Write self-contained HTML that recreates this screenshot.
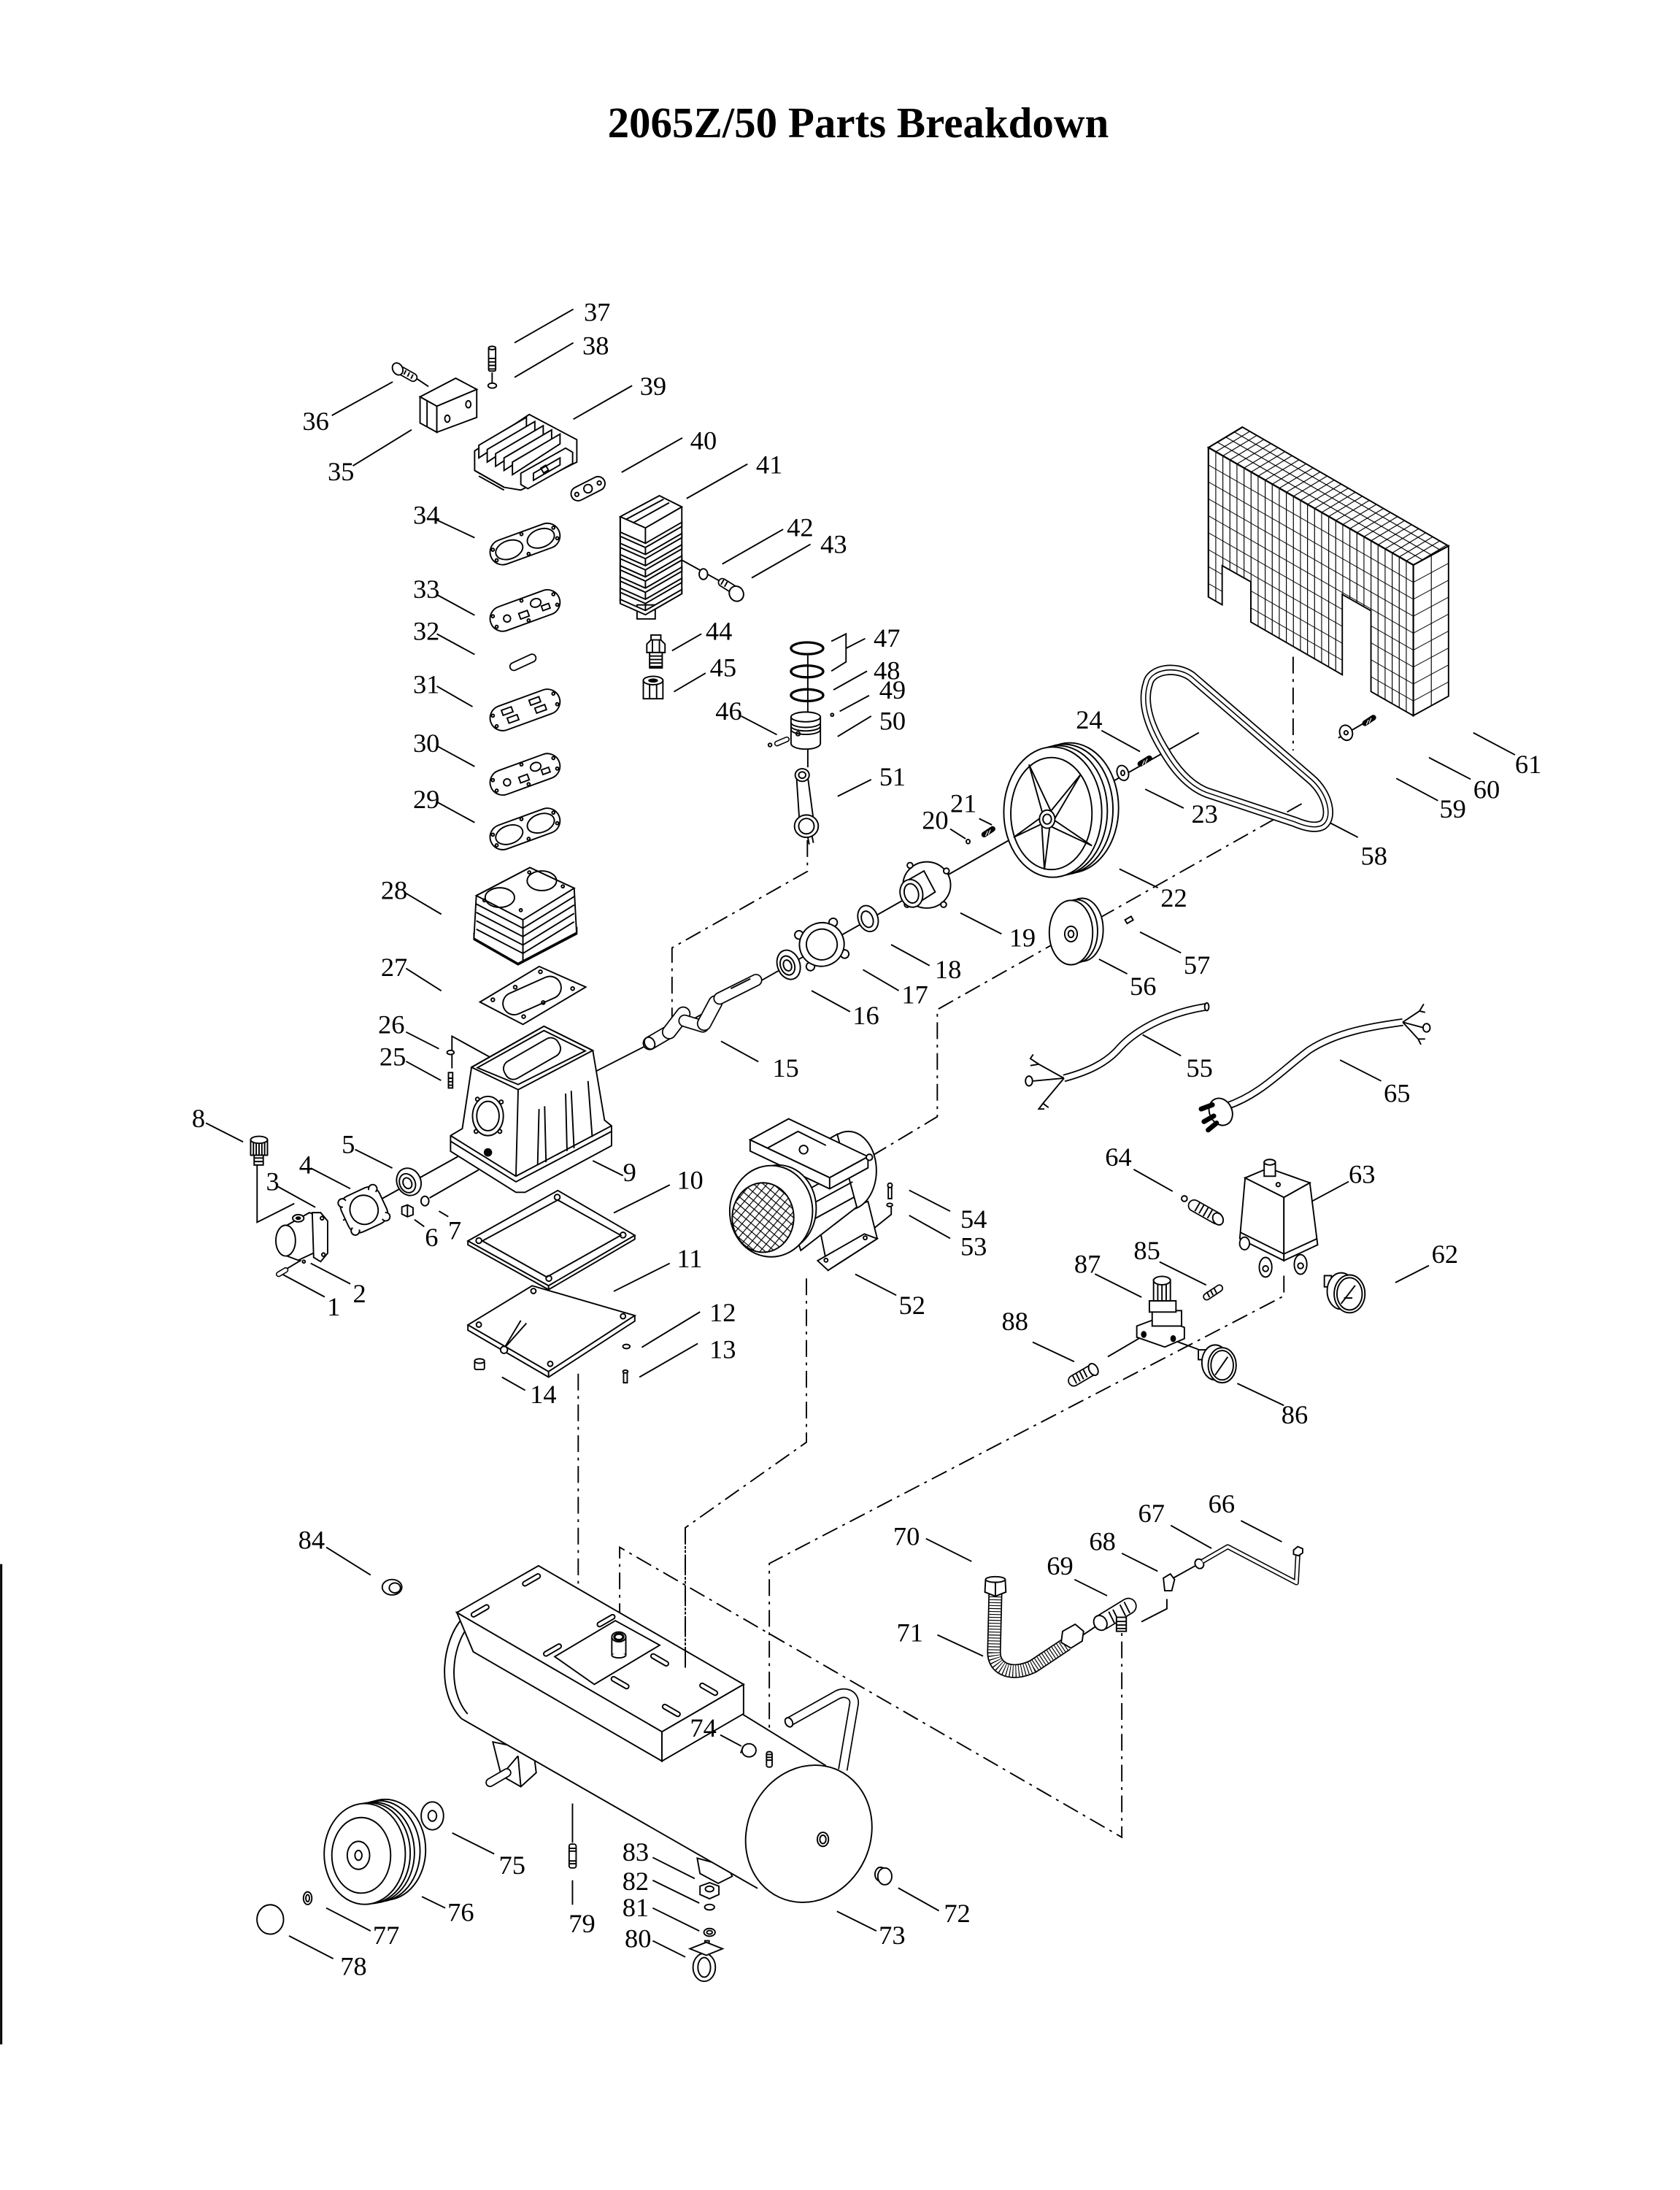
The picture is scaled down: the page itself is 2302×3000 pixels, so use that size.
<!DOCTYPE html>
<html><head><meta charset="utf-8">
<style>
html,body{margin:0;padding:0;background:#fff;}
svg{display:block}
</style></head><body>
<svg xmlns="http://www.w3.org/2000/svg" xmlns:xlink="http://www.w3.org/1999/xlink" width="2302" height="3000" viewBox="0 0 1200 1564">
<defs>
<style>
.s{fill:none;stroke:#000;stroke-width:1}
.w{fill:#fff;stroke:#000;stroke-width:1}
.k{fill:#000}
.ld{stroke:#000;stroke-width:1;fill:none}
.d{fill:none;stroke:#000;stroke-width:1;stroke-dasharray:12 4 2 4}
.t{font-family:"Liberation Serif","DejaVu Serif",serif;font-size:19px;fill:#000}
</style>
<pattern id="gf" patternUnits="userSpaceOnUse" width="5.04" height="12.1" patternTransform="translate(863.1,319.6) skewY(29.8)">
<path d="M0.3,0V12.1M0,0.3H5.04" stroke="#000" stroke-width=".6" fill="none"/>
</pattern>
<pattern id="gt" patternUnits="userSpaceOnUse" width="5.04" height="6" patternTransform="matrix(1,0.573,1.0125,-0.608,863.1,319.6)">
<path d="M0.3,0V6M0,0.3H5.04" stroke="#000" stroke-width=".6" fill="none"/>
</pattern>
<pattern id="gr" patternUnits="userSpaceOnUse" width="12.6" height="12.1" patternTransform="translate(1009.5,403.5) skewY(-28.4)">
<path d="M0.3,0V12.1M0,0.3H12.6" stroke="#000" stroke-width=".6" fill="none"/>
</pattern>
<pattern id="gm" patternUnits="userSpaceOnUse" width="4.5" height="4.5" patternTransform="rotate(40)">
<path d="M0,0.3H4.5M0.3,0V4.5" stroke="#000" stroke-width=".6" fill="none"/>
</pattern>
<g id="gA" transform="rotate(-20)">
<rect class="w" x="-26" y="-9" width="52" height="18" rx="9"/>
<ellipse class="s" cx="-12" cy="0" rx="10" ry="6.5"/>
<ellipse class="s" cx="12" cy="0" rx="10" ry="6.5"/>
<circle class="s" cx="-23" cy="-4" r="1"/><circle class="s" cx="-23" cy="4" r="1"/>
<circle class="s" cx="23" cy="-4" r="1"/><circle class="s" cx="23" cy="4" r="1"/>
<circle class="s" cx="0" cy="-7.5" r="1"/><circle class="s" cx="0" cy="7.5" r="1"/>
</g>
<g id="gB" transform="rotate(-20)">
<rect class="w" x="-26" y="-9" width="52" height="18" rx="9"/>
<circle class="s" cx="-14" cy="1" r="2.5"/>
<ellipse class="s" cx="9" cy="-2.5" rx="3.8" ry="3"/>
<rect class="s" x="-5" y="0.5" width="6.5" height="4.2"/>
<rect class="s" x="12" y="1" width="5.5" height="3.5"/>
<circle class="s" cx="-23" cy="-4" r="1"/><circle class="s" cx="-23" cy="4" r="1"/>
<circle class="s" cx="23" cy="-4" r="1"/><circle class="s" cx="23" cy="4" r="1"/>
<circle class="s" cx="0" cy="-7.5" r="1"/><circle class="s" cx="0" cy="7.5" r="1"/>
</g>
<g id="gC" transform="rotate(-20)">
<rect class="w" x="-26" y="-9" width="52" height="18" rx="9"/>
<rect class="s" x="-16" y="-5.5" width="7.5" height="3.8"/>
<rect class="s" x="-14" y="1.2" width="7.5" height="3.8"/>
<rect class="s" x="5" y="-5.5" width="7.5" height="3.8"/>
<rect class="s" x="7" y="1.2" width="7.5" height="3.8"/>
<circle class="s" cx="-23" cy="-4" r="1"/><circle class="s" cx="-23" cy="4" r="1"/>
<circle class="s" cx="23" cy="-4" r="1"/><circle class="s" cx="23" cy="4" r="1"/>
</g>
</defs>

<rect x="0" y="0" width="1200" height="1564" fill="#fff"/>

<text x="613" y="98" text-anchor="middle" font-family="Liberation Serif, serif" font-weight="bold" font-size="31" textLength="358" lengthAdjust="spacingAndGlyphs">2065Z/50 Parts Breakdown</text>

<rect x="0" y="1117" width="1.6" height="343" fill="#000"/>

<g>
<line class="s" x1="351.5" y1="266" x2="351.5" y2="274"/>
<line class="s" x1="297" y1="270" x2="306" y2="276"/>
<line class="s" x1="487" y1="400" x2="516" y2="416"/>
<line class="s" x1="577" y1="468" x2="577" y2="548"/>
<path class="d" d="M576.7,600 V622.3 L480,676.9 V727"/>
<polyline class="s" points="423.4,766.2 463,746 856.4,523.2"/>
<line class="s" x1="245" y1="871.5" x2="327" y2="826"/>
<line class="s" x1="306.8" y1="855.5" x2="341.8" y2="835.5"/>
<polyline class="s" points="183.6,832 183.6,872.9 210.2,859.5"/>
<polyline class="s" points="322.8,763 322.8,740 370,766"/>
<path class="d" d="M929.8,574 L669.5,721 V797.5 L621.9,826"/>
<line class="d" x1="923.7" y1="469" x2="923.7" y2="536"/>
<path class="d" d="M576,913 V1030 L489.5,1091 V1192"/>
<path class="d" d="M917.1,911 V925.5 L549.5,1116.6 V1250"/>
<line class="d" x1="413" y1="981" x2="413" y2="1157"/>
<path class="d" d="M442.6,1157 V1105 L801.3,1312.1 V1166"/>
<polyline class="s" points="833.5,1141.9 833.5,1148.9 815.3,1158.2"/>
<line class="s" x1="838" y1="1127" x2="856" y2="1117"/>
<line class="s" x1="773" y1="1168" x2="785" y2="1160"/>
<line class="s" x1="956" y1="527" x2="982" y2="512"/>
<line class="s" x1="813.5" y1="955.9" x2="791.3" y2="968.9"/>
<line class="s" x1="839.4" y1="957.6" x2="856" y2="963.7"/>
<polyline class="s" points="636.6,862 636.6,867.3 619.3,881.2"/>
<line class="s" x1="205" y1="906" x2="215" y2="900"/>
</g>

<!-- top cluster -->
<rect class="w" x="349" y="248" width="5" height="17" rx="1"/>
<path class="s" d="M349,256h5M349,258.5h5M349,261h5M349,263.5h5"/>
<ellipse class="w" cx="351.5" cy="248.5" rx="2.5" ry="1.2"/>
<ellipse class="w" cx="351.6" cy="275.4" rx="3" ry="1.8"/>
<line x1="287" y1="265" x2="295" y2="269.5" stroke="#000" stroke-width="6.5" stroke-linecap="round"/>
<line x1="287" y1="265" x2="295" y2="269.5" stroke="#fff" stroke-width="4.7" stroke-linecap="round"/>
<path class="s" d="M290,264.5l-1.5,3M292.5,266l-1.5,3M295,267.5l-1.5,3"/>
<ellipse class="w" cx="284" cy="263.5" rx="3.5" ry="4.5" transform="rotate(-30 284 263.5)"/>
<polygon class="w" points="300,283.4 325.5,270.1 340.5,278.1 312,290.1"/>
<polygon class="w" points="300,283.4 312,290.1 312,308.7 300,302.1"/>
<polygon class="w" points="312,290.1 340.5,278.1 340.5,298.1 312,308.7"/>
<line class="s" x1="305" y1="286" x2="305" y2="305"/>
<ellipse class="s" cx="319.5" cy="299" rx="1.8" ry="2.5"/>
<ellipse class="s" cx="334.5" cy="288.7" rx="1.8" ry="2.5"/>
<polygon class="w" points="339,322 378,296 412,314 412,330 372,350 360,348 339,336"/>
<polygon class="w" points="342,318 376,298 376,305 342,327"/>
<polygon class="w" points="348,321 382,301 382,308 348,330"/>
<polygon class="w" points="354,324 388,304 388,311 354,333"/>
<polygon class="w" points="360,327 394,307 394,314 360,336"/>
<polygon class="w" points="366,330 400,310 400,317 366,339"/>
<polygon class="w" points="372,338 404,320 409,323 409,331 377,349 372,346"/>
<polygon class="s" points="381,338 400,327 400,332 381,343"/>
<rect class="s" x="387" y="333" width="4" height="4" transform="rotate(-30 389 335)"/>
<path class="s" d="M339,336 L360,348 M342,340 L360,350"/>
<g transform="translate(420,349) rotate(-27)"><rect class="w" x="-13" y="-5" width="26" height="10" rx="5"/><circle class="s" cx="0" cy="0" r="3"/><circle class="s" cx="-9" cy="0" r="1.4"/><circle class="s" cx="9" cy="0" r="1.4"/></g>
<polygon class="w" points="443,369 471,354 487,362 487,424 461,439 443,430"/>
<rect class="w" x="455" y="432" width="13" height="10"/>
<polygon class="w" points="443,369 471,354 487,362 461,377"/>
<path class="s" d="M447,371 L474,356.5 M452,373.5 L478,359"/>
<line class="s" x1="443" y1="369" x2="443" y2="430"/>
<line class="s" x1="461" y1="377" x2="461" y2="439"/>
<polygon class="w" points="443,380 461,388 487,373 487,376 461,391 443,383"/>
<polygon class="w" points="443,388 461,396 487,381 487,384 461,399 443,391"/>
<polygon class="w" points="443,396 461,404 487,389 487,392 461,407 443,399"/>
<polygon class="w" points="443,404 461,412 487,397 487,400 461,415 443,407"/>
<polygon class="w" points="443,412 461,420 487,405 487,408 461,423 443,415"/>
<polygon class="w" points="443,420 461,428 487,413 487,416 461,431 443,423"/>
<polygon class="w" points="443,428 461,436 487,421 487,424 461,439 443,431"/>
<ellipse class="w" cx="502.4" cy="410" rx="3" ry="3.8"/>
<line x1="516" y1="416" x2="524" y2="421" stroke="#000" stroke-width="6.5" stroke-linecap="round"/>
<line x1="516" y1="416" x2="524" y2="421" stroke="#fff" stroke-width="4.7" stroke-linecap="round"/>
<path class="s" d="M517,414l-2,3.5M519.5,415.5l-2,3.5"/>
<ellipse class="w" cx="526" cy="424" rx="5" ry="5.5" transform="rotate(-30 526 424)"/>
<use xlink:href="#gA" href="#gA" x="375" y="388.5"/>
<use xlink:href="#gB" href="#gB" x="375" y="436"/>
<line x1="367" y1="476" x2="380" y2="470" stroke="#000" stroke-width="6.5" stroke-linecap="round"/>
<line x1="367" y1="476" x2="380" y2="470" stroke="#fff" stroke-width="4.7" stroke-linecap="round"/>
<use xlink:href="#gC" href="#gC" x="375" y="507"/>
<use xlink:href="#gB" href="#gB" x="375" y="553"/>
<use xlink:href="#gA" href="#gA" x="375" y="592"/>
<rect class="w" x="465" y="453.5" width="7" height="4"/>
<polygon class="w" points="462,460 465,457 472,457 475,460 475,466 462,466"/>
<path class="s" d="M466,457V466M471,457V466"/>
<rect class="w" x="464" y="466" width="9" height="11"/>
<path class="s" d="M464,468.5h9M464,471h9M464,473.5h9M464,476h9"/>
<rect class="w" x="459.5" y="486" width="14" height="13"/>
<path class="s" d="M464,487V499M469,487V499"/>
<ellipse class="w" cx="466.5" cy="486" rx="7" ry="3"/>
<ellipse class="k" cx="466.5" cy="486" rx="3.5" ry="1.5"/>
<ellipse cx="576.5" cy="463" rx="11.5" ry="4.2" fill="none" stroke="#000" stroke-width="1.7"/>
<ellipse cx="576.5" cy="479.5" rx="11.5" ry="4.2" fill="none" stroke="#000" stroke-width="1.7"/>
<ellipse cx="576.5" cy="496.5" rx="11.5" ry="4.2" fill="none" stroke="#000" stroke-width="1.7"/>
<circle class="s" cx="594.4" cy="510.5" r="1"/>
<path class="w" d="M565,512 V531 A10.5,4 0 0 0 586,531 V512 Z"/>
<ellipse class="w" cx="575.5" cy="512" rx="10.5" ry="3.5"/>
<path class="s" d="M565,516 A10.5,3.5 0 0 0 586,516 M565,518.5 A10.5,3.5 0 0 0 586,518.5 M565,521 A10.5,3.5 0 0 0 586,521"/>
<circle class="s" cx="570" cy="524" r="1.4"/>
<line x1="555" y1="531" x2="562" y2="528" stroke="#000" stroke-width="4" stroke-linecap="round"/>
<line x1="555" y1="531" x2="562" y2="528" stroke="#fff" stroke-width="2.4" stroke-linecap="round"/>
<circle class="s" cx="550" cy="532" r="1.2"/>
<path class="w" d="M569,556 L571,586 L581,585 L577,555 Z"/>
<ellipse class="w" cx="573" cy="553.5" rx="5" ry="4.5"/>
<ellipse class="s" cx="573" cy="553.5" rx="2.5" ry="2.3"/>
<ellipse class="w" cx="576" cy="590" rx="8.5" ry="8"/>
<ellipse class="s" cx="576" cy="590" rx="5.5" ry="5.5"/>
<path class="s" d="M577,598 L578,603 M580,597 L581,602"/>

<!-- pump -->
<polygon class="w" points="340.2,639.6 378.5,619.6 410.1,634.3 411.8,666 370,688 338.5,670"/>
<polygon class="w" points="340.2,639.6 378.5,619.6 410.1,634.3 373.5,656.9"/>
<ellipse class="s" cx="357" cy="641" rx="10.5" ry="7"/>
<ellipse class="s" cx="387" cy="629" rx="10.5" ry="7"/>
<circle class="s" cx="346" cy="643" r="1"/><circle class="s" cx="372" cy="650" r="1"/><circle class="s" cx="378" cy="623" r="1"/><circle class="s" cx="402" cy="633" r="1"/>
<polyline class="s" points="340.2,645.6 373.5,662.9 410.1,640.3"/>
<polyline class="s" points="340.2,651.6 373.5,668.9 410.1,646.3"/>
<polyline class="s" points="340.2,657.6 373.5,674.9 410.1,652.3"/>
<polyline class="s" points="340.2,663.6 373.5,680.9 410.1,658.3"/>
<polyline class="s" points="338.5,666 338.5,671 370,689 412,667 412,662"/>
<line class="s" x1="373.5" y1="657" x2="373.5" y2="687"/>
<polygon class="w" points="342.8,715.6 385.1,690.2 418.4,704.9 373.5,731.6"/>
<g transform="translate(380,711) rotate(-24)"><rect class="s" x="-22" y="-8" width="44" height="16" rx="8"/></g>
<circle class="s" cx="352" cy="714" r="1.2"/><circle class="s" cx="386" cy="694" r="1.2"/><circle class="s" cx="409" cy="706" r="1.2"/><circle class="s" cx="374" cy="726" r="1.2"/><circle class="s" cx="388" cy="716" r="1.2"/><circle class="s" cx="368" cy="705" r="1.2"/>
<ellipse class="w" cx="321.8" cy="751.6" rx="2.5" ry="1.5"/>
<rect class="w" x="320.3" y="766" width="3" height="11"/>
<path class="s" d="M320.3,770h3M320.3,772.5h3M320.3,775h3"/>
<polygon class="w" points="336.8,762.2 388.5,732.9 423.4,750.2 431.8,800 436.8,804 436.8,818.2 375,851.5 368.5,851.5 321.8,822.2 321.8,811 330.2,806"/>
<polygon class="s" points="336.8,762.2 388.5,732.9 423.4,750.2 370.1,778.2"/>
<polygon class="s" points="341,762.5 388.5,736 418,750.5 370.1,774.5"/>
<g transform="translate(380,756) rotate(-30)"><rect class="s" x="-22" y="-7" width="44" height="14" rx="6"/></g>
<line class="s" x1="370.1" y1="778.2" x2="368.5" y2="840"/>
<polyline class="s" points="321.8,811 368.5,840 436.8,804"/>
<polyline class="s" points="321.8,815 368.5,844 436.8,808"/>
<path class="s" d="M385,792 L384,832 M389,790 L390,830 M404,781 L405,822 M408,779 L410,820 M420,772 L423,812"/>
<ellipse class="w" cx="348.5" cy="797" rx="11" ry="14"/>
<ellipse class="s" cx="348.5" cy="797" rx="8" ry="10.5"/>
<circle class="s" cx="341" cy="785" r="1.3"/><circle class="s" cx="358" cy="787" r="1.3"/><circle class="s" cx="357" cy="808" r="1.3"/><circle class="s" cx="340" cy="808" r="1.3"/>
<circle class="k" cx="348.5" cy="823" r="3"/>
<rect class="w" x="179" y="814" width="12" height="11"/>
<path class="s" d="M181,814V825M183,814V825M185,814V825M187,814V825M189,814V825"/>
<ellipse class="w" cx="185" cy="814" rx="6" ry="2.5"/>
<rect class="w" x="181.5" y="825" width="6.5" height="7"/>
<path class="s" d="M181.5,827h6.5M181.5,829.5h6.5"/>
<path class="w" d="M205,875 L221,866 L228,869 L230,892 L213,900 L205,897 Z"/>
<ellipse class="w" cx="204" cy="886" rx="7" ry="11"/>
<path class="w" d="M223,866 L229,866 L234,872 L234,895 L229,901 L224,898 Z"/>
<circle class="s" cx="230" cy="870" r="1.2"/><circle class="s" cx="231" cy="896" r="1.2"/>
<ellipse class="w" cx="213" cy="870" rx="4" ry="2.6"/>
<ellipse class="k" cx="213" cy="870" rx="2" ry="1.3"/>
<line x1="199" y1="910" x2="204" y2="907" stroke="#000" stroke-width="4" stroke-linecap="round"/>
<line x1="199" y1="910" x2="204" y2="907" stroke="#fff" stroke-width="2.4" stroke-linecap="round"/>
<circle class="s" cx="217" cy="901" r="1"/>
<g transform="translate(260,864) rotate(-25)">
<rect class="w" x="-15" y="-14" width="30" height="28" rx="8"/>
<circle class="w" cx="-12" cy="-11" r="3"/><circle class="w" cx="12" cy="-11" r="3"/><circle class="w" cx="12" cy="11" r="3"/><circle class="w" cx="-12" cy="11" r="3"/>
<rect x="-14" y="-12" width="28" height="24" rx="8" fill="#fff"/>
<ellipse class="s" cx="0" cy="0" rx="10" ry="10.5"/>
</g>
<ellipse class="w" cx="292" cy="844" rx="8.5" ry="10" transform="rotate(-25 292 844)"/>
<ellipse class="s" cx="291" cy="845" rx="5.5" ry="7" transform="rotate(-25 291 845)"/>
<ellipse class="s" cx="291" cy="845" rx="3" ry="4" transform="rotate(-25 291 845)"/>
<polygon class="w" points="287,862 291,860.5 295,862.5 295,867.5 291,869 287,867"/>
<path class="s" d="M291,860.5V869"/>
<ellipse class="w" cx="303.5" cy="857.7" rx="2.8" ry="3.4"/>
<polygon class="w" points="398.4,850.2 453.4,882.2 391.8,918.2 334.2,886.2"/>
<polyline class="s" points="334.2,886.2 334.2,889 391.8,921 453.4,885 453.4,882.2"/>
<line class="s" x1="391.8" y1="918.2" x2="391.8" y2="921"/>
<polygon class="s" points="398.4,857 443.4,882.2 390.5,912 344.5,886.2"/>
<circle class="s" cx="398" cy="855" r="2"/><circle class="s" cx="445" cy="882" r="2"/><circle class="s" cx="392" cy="913" r="2"/><circle class="s" cx="342" cy="886" r="2"/>
<polygon class="w" points="380.1,918.2 453.4,939.5 391.8,979.5 334.2,946.2"/>
<polyline class="s" points="334.2,946.2 334.2,950 391.8,983.5 453.4,943.5 453.4,939.5"/>
<line class="s" x1="391.8" y1="979.5" x2="391.8" y2="983.5"/>
<circle class="s" cx="381" cy="922" r="1.8"/><circle class="s" cx="445" cy="940" r="1.8"/><circle class="s" cx="393" cy="974" r="1.8"/><circle class="s" cx="342" cy="946" r="1.8"/>
<path class="s" d="M376,945 L360,963 L372,943"/>
<circle class="w" cx="360" cy="964" r="2.5"/>
<ellipse class="w" cx="447.4" cy="961.6" rx="2.5" ry="1.5"/>
<rect class="w" x="445.4" y="979.5" width="2.6" height="8"/>
<ellipse class="w" cx="446.7" cy="979.5" rx="1.8" ry="1"/>
<rect class="w" x="339" y="972" width="7" height="6" rx="1"/>
<ellipse class="w" cx="342.5" cy="972" rx="3.5" ry="1.6"/>
<g stroke-linecap="round">
<line x1="464" y1="745" x2="476" y2="738" stroke="#000" stroke-width="10"/><line x1="464" y1="745" x2="476" y2="738" stroke="#fff" stroke-width="8.2"/>
<line x1="478" y1="737" x2="488" y2="724" stroke="#000" stroke-width="10.5"/><line x1="478" y1="737" x2="488" y2="724" stroke="#fff" stroke-width="8.7"/>
<line x1="489" y1="729" x2="502" y2="733" stroke="#000" stroke-width="9"/><line x1="489" y1="729" x2="502" y2="733" stroke="#fff" stroke-width="7.2"/>
<line x1="503" y1="731" x2="511" y2="716" stroke="#000" stroke-width="10.5"/><line x1="503" y1="731" x2="511" y2="716" stroke="#fff" stroke-width="8.7"/>
<line x1="514" y1="713" x2="540" y2="700" stroke="#000" stroke-width="9"/><line x1="514" y1="713" x2="540" y2="700" stroke="#fff" stroke-width="7.2"/>
</g>
<ellipse class="s" cx="464" cy="745" rx="3.5" ry="4.5" transform="rotate(-30 464 745)"/>
<path class="s" d="M522,706 L536,699"/>
<ellipse class="w" cx="563.3" cy="689" rx="8" ry="10.7" transform="rotate(-20 563.3 689)"/>
<ellipse class="s" cx="562.5" cy="689.5" rx="5" ry="7" transform="rotate(-20 562.5 689.5)"/>
<ellipse class="s" cx="562.5" cy="689.5" rx="2.8" ry="4" transform="rotate(-20 562.5 689.5)"/>
<g transform="translate(587,674.5) rotate(-20)">
<circle class="w" cx="-13" cy="-12" r="3"/><circle class="w" cx="13" cy="-12" r="3"/><circle class="w" cx="13" cy="12" r="3"/><circle class="w" cx="-13" cy="12" r="3"/>
<ellipse class="w" cx="0" cy="0" rx="16" ry="15.5"/>
<ellipse class="s" cx="0" cy="0" rx="11" ry="11"/>
</g>
<ellipse class="w" cx="620" cy="656" rx="7" ry="9.5" transform="rotate(-20 620 656)"/>
<ellipse class="s" cx="619.5" cy="656.5" rx="4" ry="6" transform="rotate(-20 619.5 656.5)"/>
<ellipse class="w" cx="662" cy="632" rx="17" ry="16.5"/>
<circle class="w" cx="650" cy="618" r="2"/><circle class="w" cx="676" cy="622" r="2"/><circle class="w" cx="674" cy="646" r="2"/><circle class="w" cx="648" cy="646" r="2"/>
<path class="w" d="M646,630 L660,622 L668,637 L654,646 Z"/>
<ellipse class="w" cx="651" cy="638" rx="8" ry="10" transform="rotate(-15 651 638)"/>
<ellipse class="s" cx="651" cy="638" rx="5" ry="7" transform="rotate(-15 651 638)"/>
<ellipse class="s" cx="691.5" cy="601" rx="1.3" ry="1.5"/>
<line x1="703" y1="596" x2="709" y2="592" stroke="#000" stroke-width="4" stroke-linecap="round"/>
<path d="M704,597l1.5,-3.5M706,596l1.5,-3.5" stroke="#fff" stroke-width=".6"/>
<ellipse class="w" cx="764" cy="577" rx="35" ry="46.5"/>
<ellipse class="w" cx="760" cy="578" rx="35" ry="46.5"/>
<ellipse class="w" cx="756" cy="579" rx="35" ry="46.5"/>
<ellipse class="w" cx="752" cy="580" rx="35" ry="46.5"/>
<ellipse class="s" cx="751" cy="581" rx="29" ry="40"/>
<polygon class="w" points="745,582 735,546 751,580"/>
<polygon class="w" points="750,580 772,553 752,587"/>
<polygon class="w" points="752,585 780,604 748,589"/>
<polygon class="w" points="750,589 746,621 744,587"/>
<polygon class="w" points="745,588 724,598 746,582"/>
<ellipse class="w" cx="748" cy="585" rx="5.5" ry="6.5"/>
<ellipse class="s" cx="748" cy="585" rx="3" ry="3.5"/>
<ellipse class="w" cx="802" cy="552" rx="4" ry="5.5" transform="rotate(-20 802 552)"/>
<ellipse class="s" cx="802" cy="552" rx="1.3" ry="1.8"/>
<line x1="814.5" y1="545.5" x2="821" y2="541.5" stroke="#000" stroke-width="4" stroke-linecap="round"/>
<path d="M816,546.5l1.5,-3.5M818,545.3l1.5,-3.5" stroke="#fff" stroke-width=".6"/>
<path d="M820,488 C822,478 840,475 851,483 L936,556 C949,567 952,584 945,589 C940,592 932,590 925,587 L862,566 C849,561 839,549 831,535 C822,520 815,503 820,488 Z" fill="none" stroke="#000" stroke-width="7.5"/>
<path d="M820,488 C822,478 840,475 851,483 L936,556 C949,567 952,584 945,589 C940,592 932,590 925,587 L862,566 C849,561 839,549 831,535 C822,520 815,503 820,488 Z" fill="none" stroke="#fff" stroke-width="5.7"/>
<path d="M820,488 C822,478 840,475 851,483 L936,556 C949,567 952,584 945,589 C940,592 932,590 925,587 L862,566 C849,561 839,549 831,535 C822,520 815,503 820,488 Z" fill="none" stroke="#000" stroke-width=".8"/>
<ellipse class="w" cx="773" cy="664" rx="15" ry="22.5"/>
<ellipse class="w" cx="769" cy="665" rx="15" ry="22.5"/>
<ellipse class="w" cx="765" cy="666" rx="15.5" ry="23"/>
<ellipse class="w" cx="765" cy="667" rx="4.5" ry="5.5"/>
<ellipse class="s" cx="765" cy="667" rx="2" ry="2.5"/>
<rect class="w" x="804" y="655.5" width="5" height="3" transform="rotate(-30 806.5 657)"/>

<!-- 61 grid guard -->
<polygon fill="url(#gt)" stroke="#000" stroke-width="1" points="863.1,319.6 887.4,305 1034.7,389.9 1009.5,403.5"/>
<polygon fill="url(#gr)" stroke="#000" stroke-width="1" points="1009.5,403.5 1034.7,389.9 1034.7,497.2 1009.5,511.1"/>
<polygon fill="url(#gf)" stroke="#000" stroke-width="1" points="863.1,319.6 1009.5,403.5 1009.5,511.1 979.3,493.9 979.3,436.2 958.8,424.5 958.8,481.9 893.5,444.2 893.5,415.5 873,404 873,431.9 863.1,426.3"/>
<ellipse class="w" cx="961.5" cy="523.3" rx="4.5" ry="5.5" transform="rotate(-20 961.5 523.3)"/>
<circle class="s" cx="961.5" cy="523.3" r="1.4"/>
<line x1="975" y1="516.5" x2="981" y2="512.5" stroke="#000" stroke-width="4" stroke-linecap="round"/>
<path d="M976,517.5l1.5,-3.5M978,516.3l1.5,-3.5" stroke="#fff" stroke-width=".6"/>

<!-- cables -->
<path d="M862,719 C835,723 812,735 800,748 C790,760 775,766 760,770" fill="none" stroke="#000" stroke-width="5.5"/>
<path d="M862,719 C835,723 812,735 800,748 C790,760 775,766 760,770" fill="none" stroke="#fff" stroke-width="3.7"/>
<ellipse class="w" cx="862" cy="719" rx="1.5" ry="2.8"/>
<path class="s" d="M760,770 L742,760 M760,770 L738,772 M760,770 L745,788"/>
<path class="s" d="M742,760 l-6,-4 l2,-3 M742,760 l-6,1"/>
<ellipse class="s" cx="735" cy="772" rx="2.5" ry="3.5"/>
<path class="s" d="M745,788 l-3,4 l4,0 M745,788 l4,3"/>
<path d="M876,790 C900,782 915,765 935,750 C955,737 980,733 1002,730" fill="none" stroke="#000" stroke-width="5.5"/>
<path d="M876,790 C900,782 915,765 935,750 C955,737 980,733 1002,730" fill="none" stroke="#fff" stroke-width="3.7"/>
<path class="s" d="M1002,730 L1014,722 M1002,730 L1017,734 M1002,730 L1013,742"/>
<path class="s" d="M1014,722 l3,-5 M1014,722 l4,1"/>
<ellipse class="s" cx="1019" cy="734" rx="2.5" ry="3"/>
<path class="s" d="M1013,742 l5,0 M1013,742 l2,4"/>
<ellipse class="w" cx="872" cy="794" rx="8" ry="10" transform="rotate(-25 872 794)"/>
<line x1="866" y1="789" x2="858" y2="792" stroke="#000" stroke-width="3.5" stroke-linecap="round"/>
<line x1="867" y1="797" x2="860" y2="801" stroke="#000" stroke-width="3.5" stroke-linecap="round"/>
<line x1="869" y1="802" x2="863" y2="807" stroke="#000" stroke-width="3.5" stroke-linecap="round"/>

<!-- 52 motor -->
<polygon class="w" points="584,870 620,858 626.6,884.6 591.5,907.2"/>
<polygon class="w" points="584,900.3 617.4,881.2 626.6,884.6 591.5,907.2"/>
<circle class="s" cx="590" cy="900" r="1.3"/><circle class="s" cx="618" cy="884" r="1.3"/>
<ellipse class="w" cx="606" cy="836" rx="20" ry="28"/>
<polygon class="w" points="553,836 598,810 612,862 572,893"/>
<path class="s" d="M560,848 L604,823 M562,858 L607,833 M565,868 L609,844 M568,878 L610,855"/>
<polygon class="w" points="535.8,814 535.8,822 592.6,849 620,834 620,826 592.6,841"/>
<polygon class="w" points="535.8,814 563.3,799 620,826 592.6,841"/>
<polyline class="s" points="548,820 570,808 590,818"/>
<line class="s" x1="592.6" y1="841" x2="592.6" y2="849"/>
<circle class="w" cx="574" cy="821" r="3"/>
<circle class="w" cx="621" cy="826.5" r="2.2"/>
<ellipse class="w" cx="556" cy="863" rx="27" ry="31"/>
<ellipse class="w" cx="550.8" cy="865" rx="29.6" ry="32.6"/>
<ellipse fill="url(#gm)" stroke="#000" stroke-width="1" cx="545" cy="869.5" rx="22" ry="24.8"/>
<rect class="w" x="634.5" y="847" width="2.4" height="9"/>
<circle class="w" cx="635.7" cy="846.5" r="1.6"/>
<ellipse class="w" cx="635.5" cy="860.5" rx="2" ry="1.2"/>

<!-- controls -->
<line x1="853" y1="861" x2="869" y2="870" stroke="#000" stroke-width="9" stroke-linecap="round"/>
<line x1="853" y1="861" x2="869" y2="870" stroke="#fff" stroke-width="7.2" stroke-linecap="round"/>
<path class="s" d="M857,859l-3.5,6M860,860.5l-3.5,6M863,862.5l-3.5,6M866,864l-3.5,6"/>
<ellipse class="w" cx="870" cy="870.5" rx="3.5" ry="4.5" transform="rotate(-30 870 870.5)"/>
<circle class="w" cx="846" cy="856" r="2"/>
<polygon class="w" points="889.4,841.2 917.1,855.1 917.1,900.3 885.6,884.6"/>
<polygon class="w" points="917.1,855.1 935.6,844.7 941.2,889 917.1,900.3"/>
<polygon class="w" points="889.4,841.2 906,834.2 935.6,844.7 917.1,855.1"/>
<polyline class="s" points="885.8,880 917.1,895.5 941,884.5"/>
<rect class="w" x="903" y="830" width="8" height="10"/>
<ellipse class="w" cx="907" cy="830" rx="4" ry="2"/>
<circle class="s" cx="913" cy="846" r="1.4"/>
<ellipse class="w" cx="889" cy="888" rx="3.5" ry="4.5"/>
<ellipse class="w" cx="904" cy="905" rx="4.5" ry="7"/><circle class="s" cx="904" cy="906" r="2"/>
<ellipse class="w" cx="929" cy="903" rx="4.5" ry="7"/><circle class="s" cx="929" cy="904" r="2"/>
<rect class="w" x="946" y="911" width="5" height="8"/>
<ellipse class="w" cx="958" cy="922" rx="10" ry="13"/>
<ellipse class="w" cx="964" cy="924" rx="11" ry="13.5"/>
<ellipse class="s" cx="964" cy="924" rx="9" ry="11.5"/>
<path class="s" d="M958,931 L968,918 M960,927h6"/>
<line x1="862" y1="926" x2="871" y2="920" stroke="#000" stroke-width="5.5" stroke-linecap="round"/>
<line x1="862" y1="926" x2="871" y2="920" stroke="#fff" stroke-width="3.7" stroke-linecap="round"/>
<path class="s" d="M864,926.5l-2,-4M866.5,925l-2,-4M869,923.5l-2,-4"/>
<polygon class="w" points="812,947 828,941 846,948 846,956 832,962 812,955"/>
<ellipse class="k" cx="817" cy="953" rx="2" ry="2.5"/>
<ellipse class="k" cx="838" cy="956" rx="2" ry="2.5"/>
<rect class="w" x="823" y="936" width="21" height="11"/>
<rect class="w" x="821" y="929" width="19" height="8"/>
<rect class="w" x="824" y="914" width="12" height="15"/>
<path class="s" d="M827,915V929M830,915V929M833,915V929"/>
<ellipse class="w" cx="830" cy="914.5" rx="6" ry="3"/>
<line x1="767" y1="986" x2="779" y2="979" stroke="#000" stroke-width="8.5" stroke-linecap="round"/>
<line x1="767" y1="986" x2="779" y2="979" stroke="#fff" stroke-width="6.7" stroke-linecap="round"/>
<path class="s" d="M769,988l-3,-6M771.5,986.5l-3,-6M774,985l-3,-6M776.5,983.5l-3,-6"/>
<ellipse class="w" cx="781" cy="978" rx="3" ry="4.5" transform="rotate(-30 781 978)"/>
<rect class="w" x="856" y="964" width="5" height="7"/>
<ellipse class="w" cx="868" cy="973" rx="9.5" ry="12.5"/>
<ellipse class="w" cx="873" cy="975" rx="10" ry="12.5"/>
<ellipse class="s" cx="873" cy="975" rx="8" ry="10.5"/>
<path class="s" d="M868,982 L877,969"/>

<!-- tank -->
<path class="w" d="M352,1244 L358,1268 L372,1276 L383,1266 L381,1250 Z"/>
<path class="s" d="M372,1276 L370,1254 M358,1268 L370,1254"/>
<line x1="350" y1="1273" x2="362" y2="1266" stroke="#000" stroke-width="6.5" stroke-linecap="round"/>
<line x1="350" y1="1273" x2="362" y2="1266" stroke="#fff" stroke-width="4.7" stroke-linecap="round"/>
<path class="w" d="M498,1327 L500,1338 L513,1345 L523,1340 L520,1333 Z"/>
<path d="M563,1230 L597,1211 C603,1207 611,1210 610,1217 L602,1264" fill="none" stroke="#000" stroke-width="7"/>
<path d="M563,1230 L597,1211 C603,1207 611,1210 610,1217 L602,1264" fill="none" stroke="#fff" stroke-width="5.2"/>
<ellipse class="w" cx="563.5" cy="1230" rx="2.5" ry="3.5" transform="rotate(-30 563.5 1230)"/>
<path fill="#fff" d="M326,1153 L512.8,1213.4 L590,1262 L541,1349 L329.6,1227.4 C312,1210 316,1170 326,1153 Z"/>
<path class="s" d="M330,1156 C316,1172 311,1208 329.6,1227.4"/>
<path class="s" d="M334,1162 C322,1178 320,1208 334,1224"/>
<line class="s" x1="329.6" y1="1227.4" x2="541.1" y2="1348.6"/>
<line class="s" x1="512.8" y1="1213.4" x2="590" y2="1261"/>
<polygon class="w" points="326.3,1151.6 338,1179.6 472.8,1257.7 472.8,1236.7"/>
<polygon class="w" points="472.8,1236.7 531.1,1202.9 531.1,1223.9 472.8,1257.7"/>
<polygon class="w" points="326.3,1151.6 384.6,1118.2 531.1,1202.9 472.8,1236.7"/>
<polygon class="s" points="396.2,1183.1 439.5,1157.4 471.2,1174.9 424.5,1202.9"/>
<g fill="#fff" stroke="#000" stroke-width="1">
<rect x="-7" y="-1.6" width="14" height="3.2" rx="1.6" transform="translate(379.6,1128.3) rotate(-30)"/>
<rect x="-7" y="-1.6" width="14" height="3.2" rx="1.6" transform="translate(342.9,1150.4) rotate(-30)"/>
<rect x="-7" y="-1.6" width="14" height="3.2" rx="1.6" transform="translate(432.9,1157.4) rotate(-30)"/>
<rect x="-7" y="-1.6" width="14" height="3.2" rx="1.6" transform="translate(394.6,1178.4) rotate(-30)"/>
<rect x="-7" y="-1.6" width="14" height="3.2" rx="1.6" transform="translate(471.2,1185.4) rotate(30)"/>
<rect x="-7" y="-1.6" width="14" height="3.2" rx="1.6" transform="translate(442.9,1201.7) rotate(30)"/>
<rect x="-7" y="-1.6" width="14" height="3.2" rx="1.6" transform="translate(506.2,1206.4) rotate(30)"/>
<rect x="-7" y="-1.6" width="14" height="3.2" rx="1.6" transform="translate(479.5,1221.5) rotate(30)"/>
</g>
<ellipse class="w" cx="442" cy="1182" rx="5" ry="2"/>
<rect x="437" y="1169" width="10" height="12" fill="#fff"/>
<path class="s" d="M437,1169V1182M447,1169V1182"/>
<ellipse class="w" cx="442" cy="1169" rx="5" ry="3.5"/>
<ellipse cx="442" cy="1169" rx="3.2" ry="2.2" fill="none" stroke="#000" stroke-width="1.6"/>
<ellipse class="w" cx="577.7" cy="1309.6" rx="44" ry="50" transform="rotate(25 577.7 1309.6)"/>
<ellipse class="w" cx="587.8" cy="1313.6" rx="4" ry="5"/>
<ellipse class="s" cx="587.8" cy="1313.6" rx="2.2" ry="3"/>
<path class="d" d="M489.5,1091 V1192"/>
<ellipse class="w" cx="280" cy="1133.5" rx="7" ry="5.5"/>
<ellipse class="s" cx="282" cy="1134" rx="4" ry="3.5"/>
<ellipse class="w" cx="535" cy="1250" rx="5" ry="4.7"/>
<path class="s" d="M531,1247 L529,1252"/>
<rect class="w" x="547.5" y="1251" width="4" height="11" rx="1.5"/>
<path class="s" d="M547.5,1253h4M547.5,1255h4M547.5,1257h4"/>
<ellipse class="w" cx="308.8" cy="1296.8" rx="8" ry="10"/>
<ellipse class="s" cx="308.8" cy="1296.8" rx="3" ry="3.8"/>
<ellipse class="w" cx="275" cy="1321" rx="29" ry="36"/>
<ellipse class="w" cx="271" cy="1322" rx="29" ry="36"/>
<ellipse class="w" cx="267" cy="1323" rx="29" ry="36"/>
<ellipse class="w" cx="264" cy="1323.5" rx="29" ry="36"/>
<ellipse class="w" cx="260.5" cy="1324" rx="29" ry="36"/>
<ellipse class="s" cx="258" cy="1325" rx="21" ry="27"/>
<ellipse class="s" cx="256" cy="1325" rx="8" ry="10"/>
<ellipse class="s" cx="256" cy="1325" rx="2.5" ry="3.5"/>
<ellipse class="w" cx="219.7" cy="1355.6" rx="3" ry="4.5"/>
<ellipse class="s" cx="219.7" cy="1355.6" rx="1.3" ry="2.5"/>
<ellipse class="w" cx="193" cy="1370.8" rx="9.5" ry="10.5"/>
<rect class="w" x="406.5" y="1317" width="5" height="17" rx="1.5"/>
<path class="s" d="M406.5,1320h5M406.5,1322h5M406.5,1329h5M406.5,1331h5"/>
<line class="s" x1="408.9" y1="1288" x2="408.9" y2="1316"/>
<line class="s" x1="408.9" y1="1342.8" x2="408.9" y2="1360.3"/>
<polygon class="w" points="500,1347 506.8,1344.5 513.5,1347 513.5,1353 506.8,1356 500,1353"/>
<ellipse class="s" cx="506.8" cy="1349" rx="3" ry="2"/>
<ellipse class="w" cx="506.8" cy="1362" rx="3.5" ry="2"/>
<ellipse class="w" cx="506.8" cy="1380" rx="4" ry="2.8"/>
<ellipse class="s" cx="506.8" cy="1380" rx="2" ry="1.3"/>
<rect class="w" x="503.5" y="1386" width="3" height="6"/>
<ellipse class="w" cx="503" cy="1405" rx="8" ry="10"/>
<ellipse class="s" cx="503" cy="1405" rx="4.5" ry="7"/>
<polygon class="w" points="492.8,1391.7 504.5,1387.1 516.1,1391.7 504.5,1396.4"/>
<ellipse class="w" cx="629" cy="1338.5" rx="4" ry="5"/>
<ellipse class="w" cx="632" cy="1340" rx="5" ry="6"/>

<!-- hose / 66-71 -->
<path d="M711,1138 L710,1180 C710,1193 724,1197 738,1190 L762,1174" fill="none" stroke="#000" stroke-width="10"/>
<path d="M711,1138 L710,1180 C710,1193 724,1197 738,1190 L762,1174" fill="none" stroke="#fff" stroke-width="8.2"/>
<path d="M711,1138 L710,1180 C710,1193 724,1197 738,1190 L762,1174" fill="none" stroke="#000" stroke-width="8.2" stroke-dasharray="0.6 1.5"/>
<polygon class="w" points="704,1128 711,1126 718,1128 718.5,1137 711,1140 703.5,1137"/>
<path class="s" d="M711,1126V1140"/>
<ellipse class="w" cx="711" cy="1128" rx="7" ry="2"/>
<polygon class="w" points="759,1165 768,1160 774,1165 773,1172 765,1177 758,1173"/>
<line x1="788" y1="1158" x2="806" y2="1147" stroke="#000" stroke-width="12" stroke-linecap="round"/>
<line x1="788" y1="1158" x2="806" y2="1147" stroke="#fff" stroke-width="10.2" stroke-linecap="round"/>
<path class="s" d="M792,1151l4,8M795,1149.5l4,8M800,1146l4,8M803,1144l4,8"/>
<rect class="w" x="797.5" y="1155" width="7" height="10"/>
<path class="s" d="M797.5,1158h7M797.5,1160.5h7M797.5,1163h7"/>
<ellipse class="w" cx="786" cy="1159" rx="4.5" ry="5.5" transform="rotate(-30 786 1159)"/>
<path class="w" d="M831,1127 L836,1124 L839,1128 L837,1136 L832,1136 Z"/>
<ellipse class="w" cx="856.7" cy="1116.8" rx="3" ry="3.5" transform="rotate(-30 856.7 1116.8)"/>
<polyline points="859,1115 877,1104.6 926,1130.3 927.2,1108" fill="none" stroke="#000" stroke-width="3.6" stroke-linejoin="round"/>
<polyline points="859,1115 877,1104.6 926,1130.3 927.2,1108" fill="none" stroke="#fff" stroke-width="2" stroke-linejoin="round"/>
<polygon class="w" points="924,1107 927,1104.5 930.5,1106 930.5,1109 927.5,1111 924,1110"/>

<!-- leader lines -->
<g class="ld">
<line x1="367.5" y1="244.8" x2="409.5" y2="220.8"/>
<line x1="367.5" y1="269.5" x2="409.5" y2="244.8"/>
<line x1="409.5" y1="299.4" x2="451.5" y2="275.4"/>
<line x1="237" y1="296.7" x2="280.5" y2="272.7"/>
<line x1="444" y1="337.3" x2="487.4" y2="312.7"/>
<line x1="252" y1="332.7" x2="294" y2="306.9"/>
<line x1="490.4" y1="356" x2="533.9" y2="331.4"/>
<line x1="312" y1="371.4" x2="339" y2="384"/>
<line x1="515.9" y1="402.8" x2="559.4" y2="378"/>
<line x1="536.9" y1="412.7" x2="578.9" y2="388.7"/>
<line x1="312" y1="424.7" x2="339" y2="439.4"/>
<line x1="312" y1="452.7" x2="339" y2="467.4"/>
<line x1="480" y1="464.7" x2="501" y2="452.7"/>
<polyline points="593.8,458 604.3,452.7 604.3,472.7 593.8,479.3"/>
<line x1="604.3" y1="463" x2="618" y2="456"/>
<line x1="595.3" y1="492.7" x2="619.3" y2="479.3"/>
<line x1="599.8" y1="508" x2="620.8" y2="496.7"/>
<line x1="481.4" y1="494" x2="504" y2="480.7"/>
<line x1="312" y1="490" x2="337.5" y2="504.7"/>
<line x1="529.4" y1="511.4" x2="554.9" y2="524.7"/>
<line x1="598.3" y1="526" x2="622.3" y2="511.4"/>
<line x1="312" y1="532.7" x2="339" y2="547.4"/>
<line x1="598.3" y1="568.7" x2="622.3" y2="556.7"/>
<line x1="312" y1="572.7" x2="339" y2="587.4"/>
<line x1="290" y1="638" x2="315.2" y2="652.9"/>
<line x1="290" y1="691.6" x2="315.2" y2="707.6"/>
<line x1="290" y1="737" x2="313.5" y2="749"/>
<line x1="290" y1="758" x2="315" y2="771.6"/>
<line x1="147" y1="802" x2="173.6" y2="815.5"/>
<line x1="198.6" y1="847.5" x2="225.2" y2="862.2"/>
<line x1="221.9" y1="834.2" x2="250.2" y2="848.9"/>
<line x1="253.6" y1="820.9" x2="280.2" y2="834.2"/>
<line x1="296" y1="871" x2="303" y2="876"/>
<line x1="313.5" y1="864.9" x2="320.2" y2="868.9"/>
<line x1="423.4" y1="828.9" x2="445" y2="839.6"/>
<line x1="438.4" y1="866.2" x2="478.4" y2="846.2"/>
<line x1="438.4" y1="922.2" x2="478.4" y2="902.2"/>
<line x1="221.9" y1="902.2" x2="250.2" y2="916.9"/>
<line x1="201.9" y1="910.2" x2="231.9" y2="926.2"/>
<line x1="458.4" y1="962.2" x2="500" y2="936.9"/>
<line x1="456.7" y1="983.5" x2="498.4" y2="959.5"/>
<line x1="358.5" y1="983.5" x2="375.1" y2="992.9"/>
<line x1="515" y1="743.6" x2="541.7" y2="758.2"/>
<line x1="579.7" y1="707.5" x2="607.2" y2="722.5"/>
<line x1="616.4" y1="692.5" x2="642" y2="707.5"/>
<line x1="636.5" y1="674.6" x2="664" y2="689.6"/>
<line x1="686" y1="652" x2="715.4" y2="667"/>
<line x1="678.7" y1="592" x2="689.7" y2="599"/>
<line x1="699.4" y1="584.6" x2="708.5" y2="589.1"/>
<line x1="799.6" y1="620.6" x2="827.1" y2="634"/>
<line x1="818" y1="563.6" x2="845.5" y2="577.1"/>
<line x1="786.8" y1="521.7" x2="814.3" y2="536.7"/>
<line x1="950" y1="587.6" x2="970" y2="598"/>
<line x1="785" y1="685" x2="805.2" y2="695.5"/>
<line x1="814.3" y1="665.6" x2="843.6" y2="680.5"/>
<line x1="816.2" y1="739" x2="843.6" y2="754"/>
<line x1="957.2" y1="757" x2="986.6" y2="772"/>
<line x1="610.9" y1="910" x2="640.2" y2="925"/>
<line x1="649.4" y1="850" x2="678.7" y2="865"/>
<line x1="649.4" y1="868" x2="678.7" y2="884.4"/>
<line x1="809.8" y1="835.1" x2="837.6" y2="850.8"/>
<line x1="937.5" y1="857.7" x2="963.4" y2="843.8"/>
<line x1="996.7" y1="916" x2="1020.7" y2="903.8"/>
<line x1="828.3" y1="901.2" x2="861.6" y2="917.7"/>
<line x1="782.1" y1="909.8" x2="815.4" y2="926.4"/>
<line x1="737.6" y1="958.5" x2="767.3" y2="972.4"/>
<line x1="883.8" y1="988" x2="917.1" y2="1003.7"/>
<line x1="1052.4" y1="523.3" x2="1082.2" y2="539.1"/>
<line x1="1020.7" y1="541" x2="1050.5" y2="556.5"/>
<line x1="997.4" y1="555.9" x2="1027.2" y2="571.8"/>
<line x1="233" y1="1105" x2="264.7" y2="1124.8"/>
<line x1="514.5" y1="1239" x2="529.5" y2="1247"/>
<line x1="323" y1="1309" x2="353" y2="1324"/>
<line x1="301.3" y1="1354.5" x2="318" y2="1362.6"/>
<line x1="233" y1="1362.6" x2="264.7" y2="1379"/>
<line x1="206.4" y1="1382.5" x2="238" y2="1398.8"/>
<line x1="466.2" y1="1326.5" x2="496.2" y2="1341.6"/>
<line x1="466.2" y1="1342.8" x2="499.5" y2="1359.1"/>
<line x1="466.2" y1="1362.6" x2="499.5" y2="1379"/>
<line x1="466.2" y1="1386" x2="489.5" y2="1397.6"/>
<line x1="597.8" y1="1365" x2="626" y2="1379"/>
<line x1="641.6" y1="1348.3" x2="670.7" y2="1364.6"/>
<line x1="661.4" y1="1098.8" x2="694" y2="1115.1"/>
<line x1="669.6" y1="1167.6" x2="702.2" y2="1182.7"/>
<line x1="767.5" y1="1128" x2="790.8" y2="1139.6"/>
<line x1="801.3" y1="1109.3" x2="826.9" y2="1122.1"/>
<line x1="836.3" y1="1089.4" x2="865.4" y2="1105.8"/>
<line x1="886.4" y1="1086" x2="915.6" y2="1101.1"/>
</g>

<!-- labels -->
<g class="t">
<text x="417" y="229">37</text>
<text x="416" y="253">38</text>
<text x="457" y="282">39</text>
<text x="216" y="307">36</text>
<text x="493" y="321">40</text>
<text x="234" y="343">35</text>
<text x="540" y="338">41</text>
<text x="295" y="374">34</text>
<text x="562" y="383">42</text>
<text x="586" y="395">43</text>
<text x="295" y="427">33</text>
<text x="295" y="457">32</text>
<text x="504" y="457">44</text>
<text x="624" y="462">47</text>
<text x="507" y="483">45</text>
<text x="624" y="485">48</text>
<text x="628" y="499">49</text>
<text x="295" y="495">31</text>
<text x="511" y="514">46</text>
<text x="628" y="521">50</text>
<text x="295" y="537">30</text>
<text x="628" y="561">51</text>
<text x="295" y="577">29</text>
<text x="272" y="642">28</text>
<text x="272" y="697">27</text>
<text x="270" y="738">26</text>
<text x="271" y="761">25</text>
<text x="137" y="805">8</text>
<text x="244" y="823.5">5</text>
<text x="213.6" y="838">4</text>
<text x="190" y="850">3</text>
<text x="445" y="843.5">9</text>
<text x="483.4" y="849">10</text>
<text x="303.5" y="890">6</text>
<text x="320" y="885">7</text>
<text x="483.4" y="905">11</text>
<text x="252" y="930">2</text>
<text x="233.6" y="939.5">1</text>
<text x="506.7" y="943.5">12</text>
<text x="506.7" y="970">13</text>
<text x="378.5" y="1002">14</text>
<text x="551.7" y="769">15</text>
<text x="609" y="731.5">16</text>
<text x="644" y="716.5">17</text>
<text x="667.7" y="698.6">18</text>
<text x="720.8" y="676">19</text>
<text x="658.5" y="592">20</text>
<text x="678.7" y="580">21</text>
<text x="829" y="647.6">22</text>
<text x="851" y="587.6">23</text>
<text x="768.5" y="520.2">24</text>
<text x="972" y="617.6">58</text>
<text x="807" y="710.5">56</text>
<text x="845.5" y="695.5">57</text>
<text x="847.3" y="769">55</text>
<text x="988.4" y="787">65</text>
<text x="642" y="938.5">52</text>
<text x="686" y="877">54</text>
<text x="686" y="896.4">53</text>
<text x="789.4" y="832.5">64</text>
<text x="963.4" y="844.7">63</text>
<text x="1022.6" y="902">62</text>
<text x="809.8" y="899.4">85</text>
<text x="767.3" y="909">87</text>
<text x="715.5" y="949.8">88</text>
<text x="915.3" y="1016.7">86</text>
<text x="1082.2" y="552.2">61</text>
<text x="1052.4" y="570">60</text>
<text x="1028.2" y="584">59</text>
<text x="213" y="1106">84</text>
<text x="492.8" y="1240.2">74</text>
<text x="356.3" y="1338.2">75</text>
<text x="319.6" y="1372">76</text>
<text x="266.3" y="1388.3">77</text>
<text x="243" y="1410.4">78</text>
<text x="406.2" y="1380">79</text>
<text x="444.5" y="1328.8">83</text>
<text x="444.5" y="1349.8">82</text>
<text x="444.5" y="1368.5">81</text>
<text x="446.2" y="1390.6">80</text>
<text x="627.7" y="1388.3">73</text>
<text x="674.2" y="1372.8">72</text>
<text x="638" y="1103.4">70</text>
<text x="640.4" y="1172.2">71</text>
<text x="747.7" y="1124.4">69</text>
<text x="778" y="1107">68</text>
<text x="813" y="1087.1">67</text>
<text x="863.1" y="1080.1">66</text>
</g>
</svg>
</body></html>
